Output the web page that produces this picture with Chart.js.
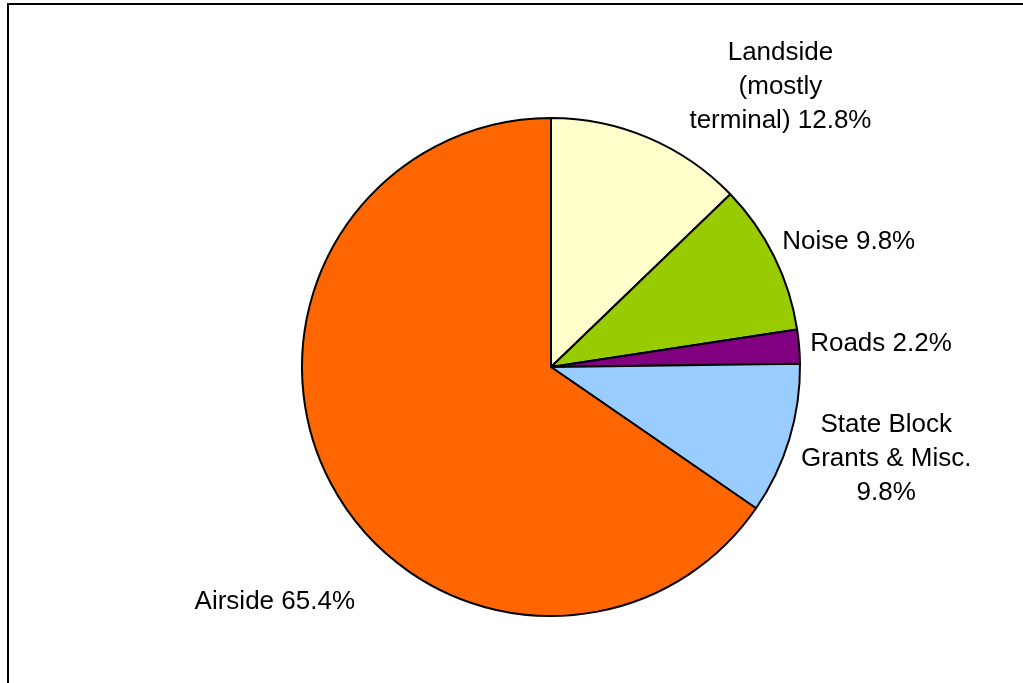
<!DOCTYPE html>
<html lang="en">
<head>
    <meta charset="UTF-8">
    <title>Airport Capital Spending</title>
    <script src="https://cdn.jsdelivr.net/npm/chart.js"></script>
    <style>
        html, body {
            margin: 0;
            padding: 0;
            background: #fff;
            overflow: hidden;
        }
        .wrap {
            position: relative;
            width: 1023px;
            height: 683px;
        }
        .frame {
            position: absolute;
            left: 7px;
            top: 3px;
            width: 1100px;
            height: 800px;
            border-top: 2px solid #000;
            border-left: 2px solid #000;
        }
        canvas {
            position: absolute;
            left: 0;
            top: 0;
        }
    </style>
</head>
<body>
    <div class="wrap">
        <div class="frame"></div>
        <canvas id="pieChart" width="1023" height="683"></canvas>
    </div>
    <script>
        // Data
        const categories = ['Landside (mostly terminal)', 'Noise', 'Roads', 'State Block Grants & Misc.', 'Airside'];
        const shares = [12.8, 9.8, 2.2, 9.8, 65.4];
        const labelLines = [
            ['Landside', '(mostly', 'terminal) 12.8%'],
            ['Noise 9.8%'],
            ['Roads 2.2%'],
            ['State Block', 'Grants & Misc.', '9.8%'],
            ['Airside 65.4%']
        ];
        const sliceColors = ['#FFFFCC', '#99CC00', '#800080', '#99CCFF', '#FF6600'];

        // label placement relative to the slice's mid point on the rim
        const labelOffsets = [[132, -78], [8, -8], [11, 4], [97, -7], [-136, 126]];
        const labelAlign = ['center', 'left', 'left', 'center', 'left'];

        const outsideLabels = {
            id: 'outsideLabels',
            afterDatasetsDraw(chart) {
                const ctx = chart.ctx;
                const arcs = chart.getDatasetMeta(0).data;
                ctx.save();
                ctx.font = '26px "Liberation Sans", Arial, sans-serif';
                ctx.fillStyle = '#000';
                ctx.textBaseline = 'alphabetic';
                arcs.forEach((arc, i) => {
                    const mid = (arc.startAngle + arc.endAngle) / 2;
                    const px = arc.x + Math.cos(mid) * arc.outerRadius;
                    const py = arc.y + Math.sin(mid) * arc.outerRadius;
                    const x = px + labelOffsets[i][0];
                    const y = py + labelOffsets[i][1];
                    ctx.textAlign = labelAlign[i];
                    labelLines[i].forEach((line, j) => {
                        ctx.fillText(line, x, y + j * 34);
                    });
                });
                ctx.restore();
            }
        };

        new Chart(document.getElementById('pieChart'), {
            type: 'pie',
            data: {
                labels: categories,
                datasets: [{
                    data: shares,
                    backgroundColor: sliceColors,
                    borderColor: '#000',
                    borderWidth: 2
                }]
            },
            options: {
                responsive: false,
                devicePixelRatio: 1,
                animation: false,
                layout: {
                    padding: { left: 301, right: 222, top: 117, bottom: 66 }
                },
                plugins: {
                    legend: { display: false },
                    tooltip: { enabled: false }
                }
            },
            plugins: [outsideLabels]
        });
    </script>
</body>
</html>
